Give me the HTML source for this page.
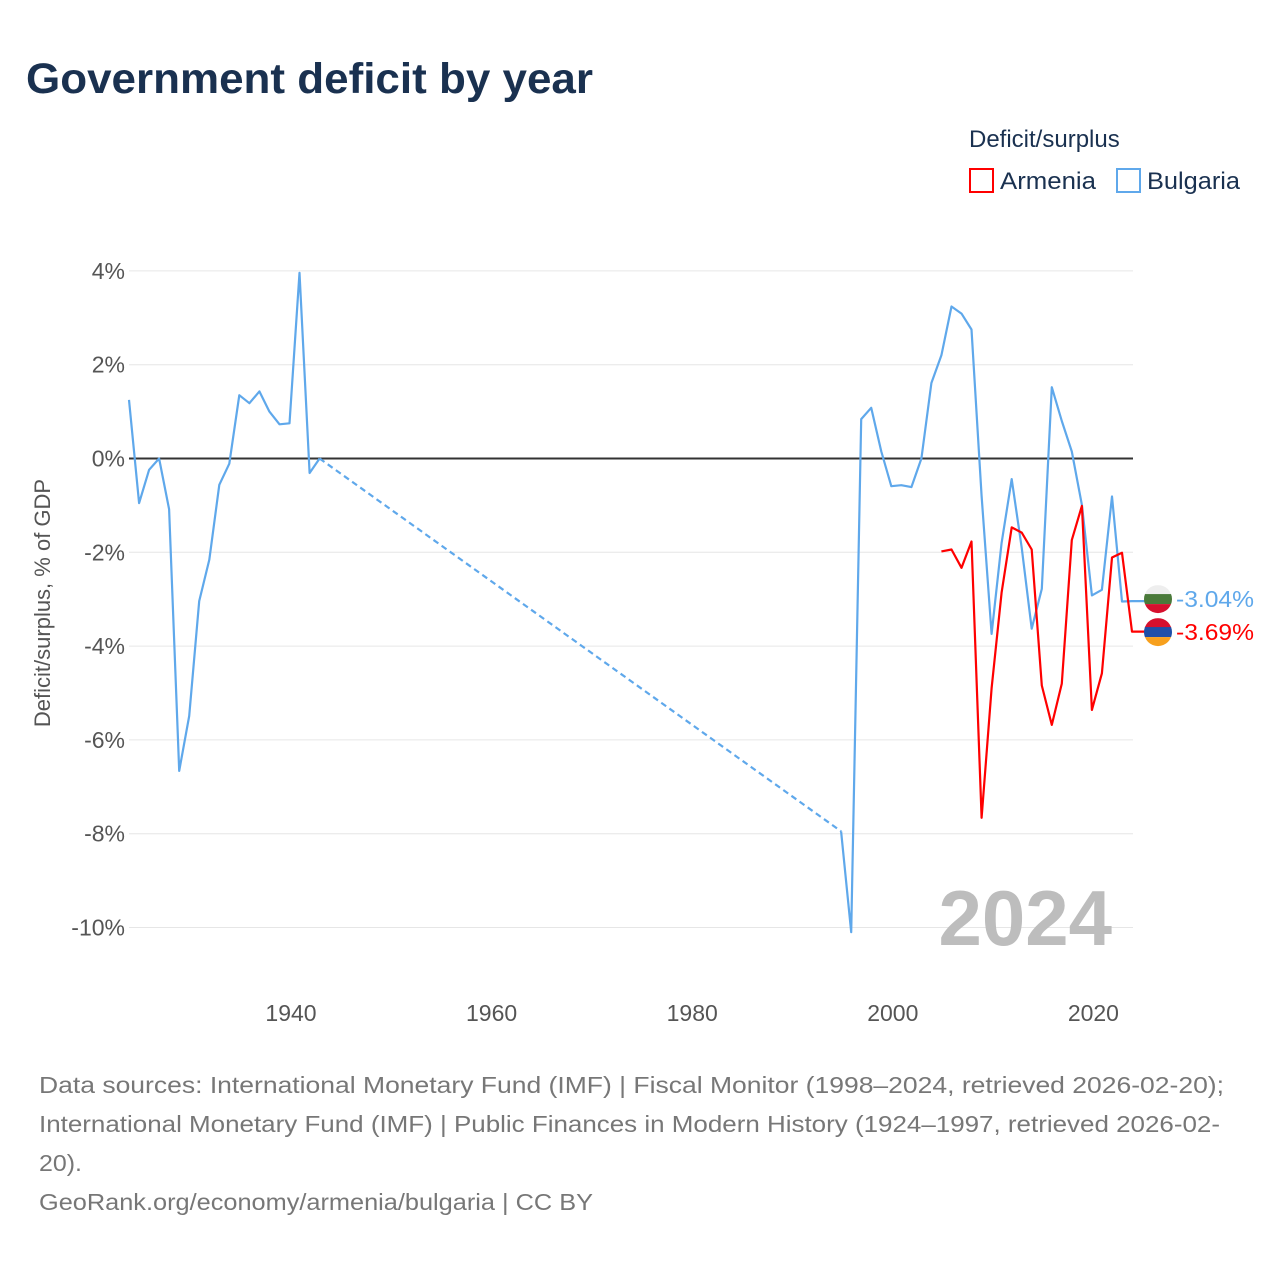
<!DOCTYPE html>
<html><head><meta charset="utf-8"><style>
body{margin:0;background:#fff;font-family:"Liberation Sans",sans-serif;}
#wrap{position:relative;width:1280px;height:1280px;overflow:hidden;}
</style></head><body>
<div id="wrap">
<svg id="chart" width="1280" height="1280" xmlns="http://www.w3.org/2000/svg">
<text x="26" y="93" font-size="43" font-weight="bold" fill="#1a3150" textLength="567" lengthAdjust="spacingAndGlyphs">Government deficit by year</text>
<text x="969" y="147" font-size="24" fill="#1a3150">Deficit/surplus</text>
<g><rect x="970" y="169" width="23" height="23" fill="none" stroke="#ff0000" stroke-width="2"/><text x="1000" y="189" font-size="24" fill="#1a3150" textLength="96" lengthAdjust="spacingAndGlyphs">Armenia</text></g>
<g><rect x="1117" y="169" width="23" height="23" fill="none" stroke="#5fa8eb" stroke-width="2"/><text x="1147" y="189" font-size="24" fill="#1a3150" textLength="93" lengthAdjust="spacingAndGlyphs">Bulgaria</text></g>
<text transform="translate(50,603) rotate(-90)" text-anchor="middle" font-size="22" fill="#555">Deficit/surplus, % of GDP</text>
<g id="grid"></g><g id="series"></g>
<text x="1112" y="945" text-anchor="end" font-size="78" font-weight="bold" fill="#bdbdbd">2024</text>
<g font-size="23" fill="#777" lengthAdjust="spacingAndGlyphs">
<text x="39" y="1093" textLength="1185" lengthAdjust="spacingAndGlyphs">Data sources: International Monetary Fund (IMF) | Fiscal Monitor (1998–2024, retrieved 2026-02-20);</text>
<text x="39" y="1132" textLength="1181" lengthAdjust="spacingAndGlyphs">International Monetary Fund (IMF) | Public Finances in Modern History (1924–1997, retrieved 2026-02-</text>
<text x="39" y="1171" textLength="43" lengthAdjust="spacingAndGlyphs">20).</text>
<text x="39" y="1210" textLength="554" lengthAdjust="spacingAndGlyphs">GeoRank.org/economy/armenia/bulgaria | CC BY</text>
</g>
</svg>
</div>
<script>
const yTicks=[4,2,0,-2,-4,-6,-8,-10];
const xTicks=[1940,1960,1980,2000,2020];
const bgEarlyYears=[1924,1925,1926,1927,1928,1929,1930,1931,1932,1933,1934,1935,1936,1937,1938,1939,1940,1941,1942,1943];
const bgEarlyValues=[1.25,-0.95,-0.24,0,-1.08,-6.66,-5.49,-3.04,-2.16,-0.56,-0.11,1.35,1.18,1.43,1.0,0.73,0.75,3.96,-0.31,0];
const bgLateYears=[1995,1996,1997,1998,1999,2000,2001,2002,2003,2004,2005,2006,2007,2008,2009,2010,2011,2012,2013,2014,2015,2016,2017,2018,2019,2020,2021,2022,2023,2024];
const bgLateValues=[-7.95,-10.1,0.84,1.08,0.15,-0.59,-0.57,-0.61,0,1.61,2.2,3.24,3.09,2.75,-0.8,-3.74,-1.8,-0.44,-1.9,-3.63,-2.78,1.52,0.8,0.15,-0.99,-2.92,-2.8,-0.81,-3.05,-3.04];
const amYears=[2005,2006,2007,2008,2009,2010,2011,2012,2013,2014,2015,2016,2017,2018,2019,2020,2021,2022,2023,2024];
const amValues=[-1.98,-1.94,-2.33,-1.77,-7.66,-4.9,-2.86,-1.47,-1.58,-1.94,-4.84,-5.68,-4.8,-1.74,-1.01,-5.36,-4.58,-2.11,-2.01,-3.69];
const NS="http://www.w3.org/2000/svg";
const X=y=>289.5+(y-1940)*10.03;
const Y=v=>458.5-v*46.9;
const grid=document.getElementById('grid'),ser=document.getElementById('series');
function mk(tag,attrs,parent){const e=document.createElementNS(NS,tag);for(const k in attrs)e.setAttribute(k,attrs[k]);parent.appendChild(e);return e;}
yTicks.forEach(t=>{
 const l=mk('line',{x1:129,x2:1133,y1:Y(t),y2:Y(t),stroke:t===0?'#333':'#e6e6e6','stroke-width':t===0?2:1},grid);
 
 
 const tx=mk('text',{x:125,y:Y(t)+8,'text-anchor':'end','font-size':23,fill:'#555'},grid);
 tx.textContent=t+'%';
 
 
});
xTicks.forEach(t=>{
 const tx=mk('text',{x:X(t)+1.5,y:1021,'text-anchor':'middle','font-size':23,fill:'#555'},grid);
 tx.textContent=t;
 
 
});
function pts(ys,vs){return ys.map((y,i)=>X(y).toFixed(1)+','+Y(vs[i]).toFixed(1)).join(' ');}
const b1=mk('polyline',{points:pts(bgEarlyYears,bgEarlyValues),fill:'none',stroke:'#5fa8eb','stroke-width':2.2,'stroke-linejoin':'round'},ser);


const gap=mk('line',{x1:X(bgEarlyYears[bgEarlyYears.length-1]),y1:Y(bgEarlyValues[bgEarlyValues.length-1]),x2:X(bgLateYears[0]),y2:Y(bgLateValues[0]),stroke:'#5fa8eb','stroke-width':2.2,'stroke-dasharray':'6,4'},ser);


const b2=mk('polyline',{points:pts(bgLateYears,bgLateValues)+' 1145,'+Y(bgLateValues[bgLateValues.length-1]).toFixed(1),fill:'none',stroke:'#5fa8eb','stroke-width':2.2,'stroke-linejoin':'round'},ser);


const a=mk('polyline',{points:pts(amYears,amValues)+' 1145,'+Y(amValues[amValues.length-1]).toFixed(1),fill:'none',stroke:'#ff0000','stroke-width':2.2,'stroke-linejoin':'round'},ser);


const bv=bgLateValues[bgLateValues.length-1],av=amValues[amValues.length-1];
const by=Y(bv)-2,ay=by+33;
const defs=mk('defs',{},ser);
const c1=mk('clipPath',{id:'cb'},defs);mk('circle',{cx:1158,cy:by,r:14},c1);
const c2=mk('clipPath',{id:'ca'},defs);mk('circle',{cx:1158,cy:ay,r:14},c2);
const fb=mk('g',{'clip-path':'url(#cb)'},ser);


mk('rect',{x:1144,y:by-14,width:28,height:10,fill:'#eee'},fb);
mk('rect',{x:1144,y:by-5,width:28,height:10,fill:'#4a7a3a'},fb);
mk('rect',{x:1144,y:by+5,width:28,height:10,fill:'#d6102e'},fb);
const fa=mk('g',{'clip-path':'url(#ca)'},ser);


mk('rect',{x:1144,y:ay-14,width:28,height:10,fill:'#d6102e'},fa);
mk('rect',{x:1144,y:ay-5,width:28,height:10,fill:'#1f4fa8'},fa);
mk('rect',{x:1144,y:ay+5,width:28,height:10,fill:'#f7a01d'},fa);
const lb=mk('text',{x:1176,y:by+8,'font-size':23,fill:'#5fa8eb',textLength:78,lengthAdjust:'spacingAndGlyphs'},ser);
lb.textContent=bv.toFixed(2)+'%';


const la=mk('text',{x:1176,y:ay+8,'font-size':23,fill:'#ff0000',textLength:78,lengthAdjust:'spacingAndGlyphs'},ser);
la.textContent=av.toFixed(2)+'%';


</script>
</body></html>
